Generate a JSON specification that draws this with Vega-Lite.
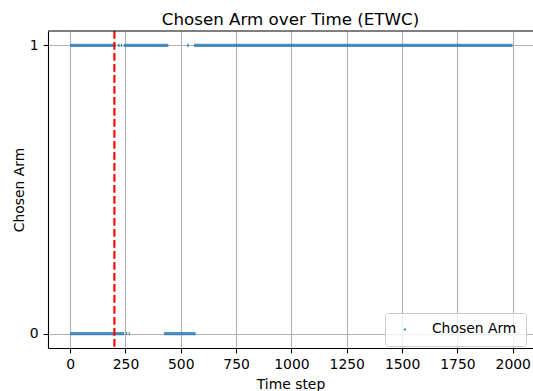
{
  "$schema": "https://vega.github.io/schema/vega-lite/v6.json",
  "width": 485,
  "height": 317,
  "autosize": {"type": "none"},
  "padding": {"left": 48, "top": 31, "right": 0, "bottom": 43},
  "background": "white",
  "config": {
    "font": "DejaVu Sans",
    "view": {"stroke": null},
    "axis": {
      "labelFont": "DejaVu Sans",
      "titleFont": "DejaVu Sans",
      "labelFontSize": 13.9,
      "titleFontSize": 13.9,
      "labelColor": "black",
      "titleColor": "black",
      "titleFontWeight": "normal",
      "domainColor": "black",
      "domainWidth": 1.1,
      "tickColor": "black",
      "tickWidth": 1.1,
      "tickSize": 4.9,
      "labelPadding": 4.9,
      "gridColor": "#b0b0b0",
      "gridWidth": 1.1,
      "gridOpacity": 1,
      "zindex": 1
    }
  },
  "title": {
    "text": "Chosen Arm over Time (ETWC)",
    "font": "DejaVu Sans",
    "fontSize": 16.7,
    "fontWeight": "normal",
    "color": "black",
    "anchor": "middle",
    "baseline": "alphabetic",
    "offset": 7.7,
    "dy": 19.5
  },
  "datasets": {
    "runs": [
      {"start": 0, "end": 206, "arm": 1, "series": "Chosen Arm"},
      {"start": 216, "end": 224, "arm": 1, "series": "Chosen Arm"},
      {"start": 229, "end": 235, "arm": 1, "series": "Chosen Arm"},
      {"start": 243, "end": 444, "arm": 1, "series": "Chosen Arm"},
      {"start": 529, "end": 536, "arm": 1, "series": "Chosen Arm"},
      {"start": 560, "end": 1999, "arm": 1, "series": "Chosen Arm"},
      {"start": 0, "end": 244, "arm": 0, "series": "Chosen Arm"},
      {"start": 252, "end": 258, "arm": 0, "series": "Chosen Arm"},
      {"start": 265, "end": 270, "arm": 0, "series": "Chosen Arm"},
      {"start": 424, "end": 567, "arm": 0, "series": "Chosen Arm"}
    ],
    "marker": [{"t": 200}]
  },
  "layer": [
    {
      "data": {"name": "runs"},
      "mark": {"type": "rule", "strokeWidth": 3.2, "strokeCap": "butt", "opacity": 0.8},
      "encoding": {
        "x": {
          "field": "start",
          "type": "quantitative",
          "scale": {"domain": [-100, 2091.6], "nice": false, "zero": false},
          "axis": {
            "title": "Time step",
            "values": [0, 250, 500, 750, 1000, 1250, 1500, 1750, 2000],
            "format": "d",
            "titleY": 40,
            "titleBaseline": "alphabetic"
          }
        },
        "x2": {"field": "end"},
        "y": {
          "field": "arm",
          "type": "quantitative",
          "scale": {"domain": [-0.05, 1.05], "nice": false, "zero": false},
          "axis": {
            "title": "Chosen Arm",
            "values": [0, 1],
            "format": "d",
            "titleX": -25,
            "titleBaseline": "alphabetic"
          }
        },
        "color": {
          "field": "series",
          "type": "nominal",
          "scale": {"range": ["#1f77b4"]},
          "legend": {
            "title": null,
            "orient": "none",
            "legendX": 337,
            "legendY": 282,
            "padding": 9.5,
            "symbolType": "circle",
            "symbolSize": 6,
            "symbolFillColor": "#1f77b4",
            "symbolStrokeWidth": 0,
            "symbolOffset": 3.5,
            "labelOffset": 20,
            "labelFont": "DejaVu Sans",
            "labelFontSize": 13.9,
            "labelColor": "black",
            "strokeColor": "#cccccc",
            "fillColor": "rgba(255,255,255,0.8)",
            "cornerRadius": 3
          }
        }
      }
    },
    {
      "data": {"name": "marker"},
      "mark": {"type": "rule", "color": "#ff0000", "strokeWidth": 2.1, "strokeDash": [7.7, 3.3]},
      "encoding": {
        "x": {"field": "t", "type": "quantitative"}
      }
    },
    {
      "data": {"values": [{}]},
      "mark": {"type": "rule", "color": "black", "strokeWidth": 1.1},
      "encoding": {
        "y": {"datum": 1.05, "type": "quantitative"}
      }
    }
  ]
}
